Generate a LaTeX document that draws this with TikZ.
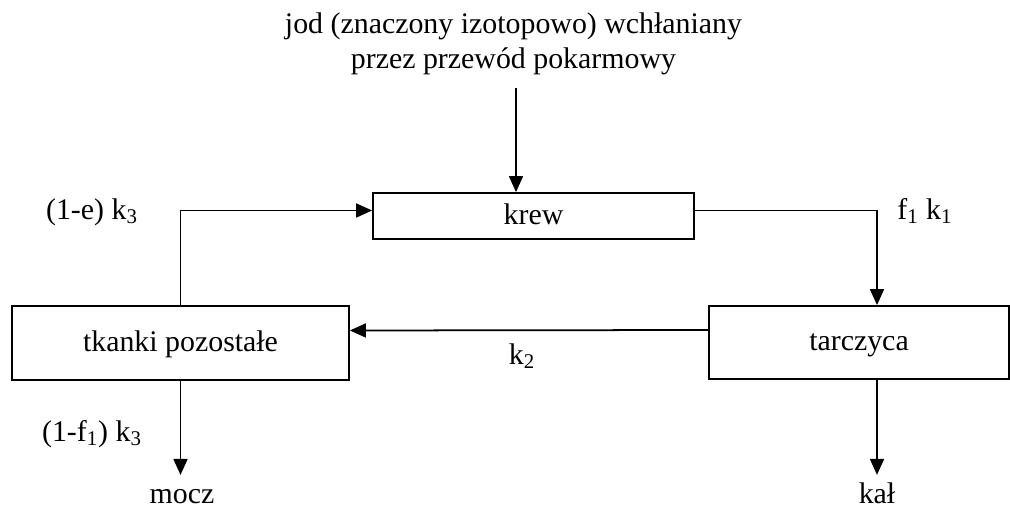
\documentclass[tikz,border=0pt]{standalone}
\usepackage{fontspec}
\setmainfont{Liberation Serif}
\usetikzlibrary{arrows.meta}
\tikzset{
	box/.style={draw,line width=1pt,inner sep=0pt,text height=1.6ex,text depth=0.4ex},
	lbl/.style={text height=1.6ex,text depth=0.4ex,inner sep=0pt},
	arr/.style={line width=1pt,-{Triangle[length=0.32cm,width=0.28cm]}}
}

\begin{document}
\begin{tikzpicture}
	\fontsize{17}{20}\selectfont
	\useasboundingbox (0,0) rectangle (20.2,10.22);
	\node[box,minimum width=6.42cm,minimum height=0.92cm] (krew) at (10.67,5.90) {krew};
	\node[box,minimum width=6.74cm,minimum height=1.48cm] (tkanki) at (3.61,3.36) {tkanki pozostałe};
	\node[box,minimum width=6.0cm,minimum height=1.46cm] (tarczyca) at (17.18,3.37) {tarczyca};
	\node[align=center,inner sep=0pt] (jod) at (10.27,9.35)
	{jod (znaczony izotopowo) wchłaniany\\przez przewód pokarmowy};
	\node[lbl] (mocz) at (3.64,0.32) {mocz};
	\node[lbl] (kal) at (17.54,0.32) {kał};
	\node[lbl] (e3) at (1.84,6.0) {(1-e) k\textsubscript{3}};
	\node[lbl] (f1k1) at (18.5,6.0) {f\textsubscript{1} k\textsubscript{1}};
	\node[lbl] (k2) at (10.44,3.1) {k\textsubscript{2}};
	\node[lbl] (f3) at (1.84,1.56) {(1-f\textsubscript{1}) k\textsubscript{3}};

	\draw[arr] (jod.south -| 10.32,0) ++(0,-0.25) -- (10.32,0 |- krew.north);
	\draw[arr] (tkanki.north) |- ([yshift=1.1mm]krew.west);
	\draw[arr] ([yshift=1.1mm]krew.east) -| ([xshift=3.6mm]tarczyca.north);
	\draw[arr] ([yshift=2.5mm]tarczyca.west) -- ([yshift=2.5mm]tkanki.east);
	\draw[arr] (tkanki.south) -- ([yshift=1.2mm]tkanki.south |- mocz.north);
	\draw[arr] ([xshift=3.6mm]tarczyca.south) -- ([xshift=3.6mm,yshift=1.2mm]tarczyca.south |- kal.north);
\end{tikzpicture}
\end{document}
